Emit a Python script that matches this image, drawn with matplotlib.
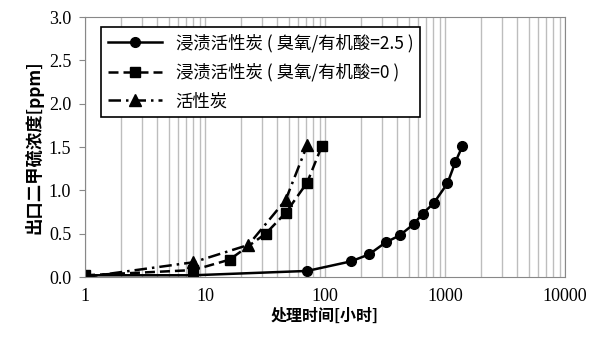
import numpy as np
import matplotlib
matplotlib.use('Agg')
import matplotlib.pyplot as plt

plt.rcParams['font.family'] = ['Noto Sans CJK SC', 'DejaVu Sans']

# impregnated carbon, ozone/organic acid = 2.5
t_25 = [1, 8, 71, 164, 232, 321, 419, 548, 650, 803, 1047, 1222, 1397]
c_25 = [0.02, 0.02, 0.07, 0.18, 0.26, 0.40, 0.48, 0.61, 0.73, 0.85, 1.08, 1.33, 1.51]

# impregnated carbon, ozone/organic acid = 0
t_0 = [1, 8, 16, 32, 47, 71, 94]
c_0 = [0.02, 0.08, 0.20, 0.50, 0.74, 1.09, 1.51]

# plain activated carbon
t_ac = [1, 8, 23, 47, 71]
c_ac = [0.0, 0.17, 0.37, 0.89, 1.52]

labels = ['浸渍活性炭 ( 臭氧/有机酸=2.5 )',
          '浸渍活性炭 ( 臭氧/有机酸=0 )',
          '活性炭']

fig = plt.figure(figsize=(6.0, 3.43), dpi=100)
ax = fig.add_axes([0.1417, 0.1924, 0.80, 0.758])

ax.plot(t_25, c_25, '-', color='black', lw=1.8, marker='o', ms=7, label=labels[0])
ax.plot(t_0, c_0, '--', color='black', lw=1.8, marker='s', ms=7,
        dashes=(4, 2), label=labels[1])
ax.plot(t_ac, c_ac, '-.', color='black', lw=1.8, marker='^', ms=8,
        dashes=(5, 2, 1, 2), label=labels[2])

ax.set_xscale('log')
ax.set_xlim(1, 10000)
ax.set_ylim(0, 3.0)
ax.set_yticks(np.arange(0, 3.01, 0.5))
ax.set_yticklabels(['%.1f' % v for v in np.arange(0, 3.01, 0.5)])
ax.set_xticks([1, 10, 100, 1000, 10000])
ax.set_xticklabels(['1', '10', '100', '1000', '10000'])

for lab in ax.get_xticklabels() + ax.get_yticklabels():
    lab.set_fontfamily('Liberation Serif')
    lab.set_fontsize(13)

ax.grid(True, which='both', axis='x', color='#bdbdbd', lw=1.0)
ax.set_axisbelow(True)
ax.tick_params(axis='x', which='both', length=0, pad=8)
ax.tick_params(axis='y', length=4, color='#888888', pad=6)
for s in ax.spines.values():
    s.set_color('#888888')

ax.set_xlabel('处理时间[小时]', fontsize=11.5, fontweight='bold', labelpad=2)
ax.set_ylabel('出口二甲硫浓度[ppm]', fontsize=12.5, fontweight='semibold', labelpad=4)

leg = ax.legend(loc='upper left', bbox_to_anchor=(0.033, 0.962), fontsize=12.5,
                frameon=True, fancybox=False, handlelength=3.1,
                borderaxespad=0, labelspacing=0.62, borderpad=0.4)
leg.get_frame().set_edgecolor('black')
leg.get_frame().set_linewidth(1.2)
leg.get_frame().set_alpha(1)

plt.savefig('out.png', dpi=100)
